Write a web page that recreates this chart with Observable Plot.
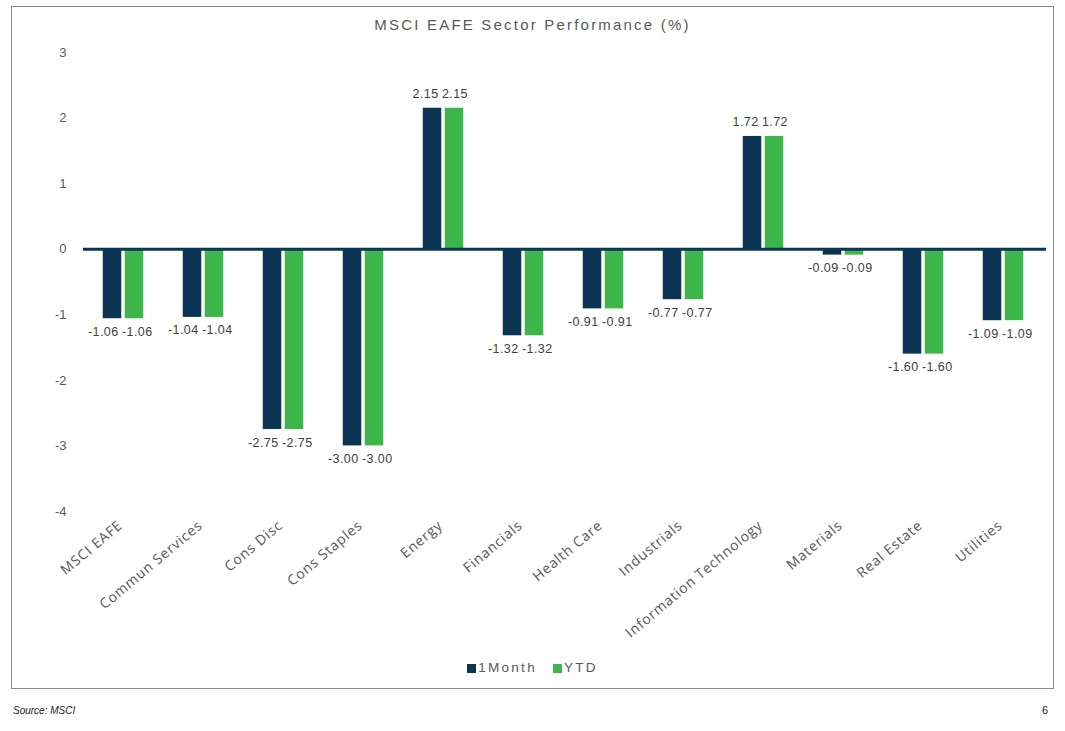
<!DOCTYPE html>
<html>
<head>
<meta charset="utf-8">
<script src="https://cdn.jsdelivr.net/npm/d3@7"></script>
<script src="https://cdn.jsdelivr.net/npm/@observablehq/plot@0.6"></script>
<style>
  html, body { margin: 0; padding: 0; background: #fff; }
  #page { position: relative; width: 1065px; height: 731px; overflow: hidden; font-family: "Open Sans", sans-serif; }
  #frame { position: absolute; left: 11px; top: 6px; width: 1041px; height: 681px; border: 1.5px solid #8a8a8a; }
  #title { position: absolute; left: 0; width: 1065px; top: 16px; text-align: center; font-size: 15px; letter-spacing: 2.2px; color: #595959; font-family: "Liberation Sans", sans-serif; }
  #chart { position: absolute; left: 0; top: 0; }
  #legend { position: absolute; left: 0; width: 1065px; top: 660px; text-align: center; font-size: 13.5px; letter-spacing: 2.3px; color: #595959; font-family: "Liberation Sans", sans-serif; }
  #legend span.sw { display: inline-block; width: 9px; height: 9px; margin-right: 2px; vertical-align: -1px; }
  #legend span.item { margin: 0 8px; }
  #source { position: absolute; left: 13px; top: 705px; font-size: 10px; font-style: italic; color: #222; font-family: "Liberation Sans Narrow", "Liberation Sans", sans-serif; }
  #pagenum { position: absolute; left: 1042px; top: 704px; font-size: 11px; color: #222; font-family: "Liberation Sans", sans-serif; }
</style>
</head>
<body>
<div id="page">
  <div id="frame"></div>
  <div id="chart"></div>
  <div id="title">MSCI EAFE Sector Performance (%)</div>
  <div id="legend"></div>
  <div id="source">Source: MSCI</div>
  <div id="pagenum">6</div>
</div>
<script>
const categories = ["MSCI EAFE", "Commun Services", "Cons Disc", "Cons Staples", "Energy", "Financials", "Health Care", "Industrials", "Information Technology", "Materials", "Real Estate", "Utilities"];
const oneMonth = [-1.06, -1.04, -2.75, -3.00, 2.15, -1.32, -0.91, -0.77, 1.72, -0.09, -1.60, -1.09];
const ytd = [-1.06, -1.04, -2.75, -3.00, 2.15, -1.32, -0.91, -0.77, 1.72, -0.09, -1.60, -1.09];
const seriesNames = ["1Month", "YTD"];
const seriesColors = ["#0b3552", "#3cb54a"];
const yTicks = [-4, -3, -2, -1, 0, 1, 2, 3];

const d1 = categories.map((c, i) => ({cat: c, v: oneMonth[i]}));
const d2 = categories.map((c, i) => ({cat: c, v: ytd[i]}));

const W = 1065, H = 650;
const mL = 80, mR = 19, mT = 52, mB = H - 511;
const step = (W - mL - mR) / categories.length;
const barW = 19, gap = 3;
const half = step / 2;
const navyInsetLeft = half - gap / 2 - barW, navyInsetRight = half + gap / 2;
const greenInsetLeft = half + gap / 2, greenInsetRight = half - gap / 2 - barW;

const fmt = d => d.toFixed(2);
const labelFont = {fontSize: 12.5, fill: "#404040", fontFamily: "Liberation Sans, sans-serif"};

function labels(data, dx, anchor) {
  return [
    Plot.text(data.filter(d => d.v >= 0), {x: "cat", y: "v", text: d => fmt(d.v), dx, dy: -14, textAnchor: anchor, ...labelFont}),
    Plot.text(data.filter(d => d.v < 0), {x: "cat", y: "v", text: d => fmt(d.v), dx, dy: 13, textAnchor: anchor, ...labelFont})
  ];
}

const chart = Plot.plot({
  width: W, height: H,
  marginLeft: mL, marginRight: mR, marginTop: mT, marginBottom: mB,
  style: {background: "transparent", fontFamily: "Liberation Sans, sans-serif"},
  x: {domain: categories, padding: 0, label: null},
  y: {domain: [-4, 3], label: null},
  marks: [
    Plot.axisY({ticks: yTicks, tickSize: 0, tickPadding: 14, label: null, fontSize: 13, color: "#595959", tickFormat: d => String(d)}),
    Plot.axisX({tickSize: 0, tickPadding: 12, dx: -3, tickRotate: -40, label: null, fontSize: 14, color: "#595959", fontFamily: "Open Sans, sans-serif"}),
    Plot.barY(d1, {x: "cat", y: "v", fill: seriesColors[0], insetLeft: navyInsetLeft, insetRight: navyInsetRight}),
    Plot.barY(d2, {x: "cat", y: "v", fill: seriesColors[1], insetLeft: greenInsetLeft, insetRight: greenInsetRight}),
    Plot.ruleY([0], {stroke: seriesColors[0], strokeWidth: 3, insetLeft: 3, insetRight: 0}),
    ...labels(d1, -5, "end"),
    ...labels(d2, -1.5, "start")
  ]
});
d3.select(chart).selectAll('g[aria-label="x-axis tick label"] text').attr("letter-spacing", "0.8");
d3.select(chart).selectAll('g[aria-label="text"] text').attr("letter-spacing", "0.4");
document.getElementById("chart").appendChild(chart);

const legend = document.getElementById("legend");
seriesNames.forEach((name, i) => {
  const item = document.createElement("span");
  item.className = "item";
  const sw = document.createElement("span");
  sw.className = "sw";
  sw.style.background = seriesColors[i];
  item.appendChild(sw);
  item.appendChild(document.createTextNode(name));
  legend.appendChild(item);
});
</script>
</body>
</html>
